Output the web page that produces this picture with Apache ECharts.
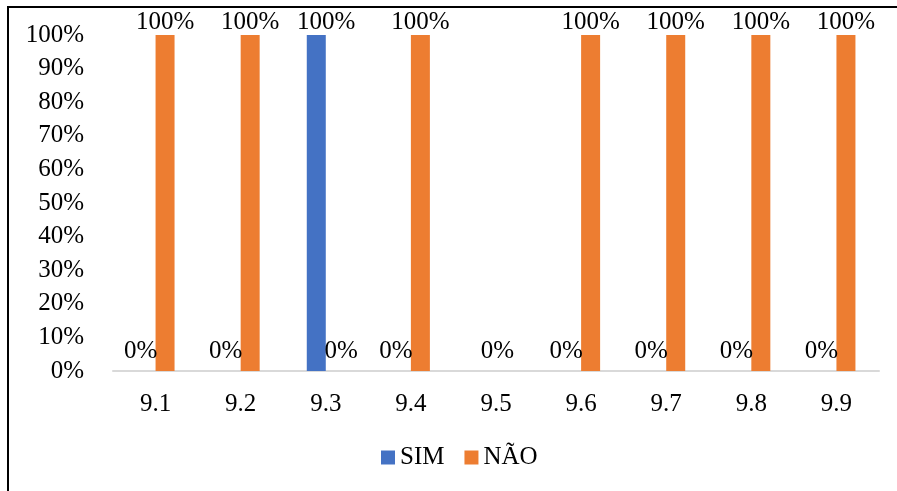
<!DOCTYPE html>
<html>
<head>
<meta charset="utf-8">
<script src="https://cdn.jsdelivr.net/npm/echarts@6/dist/echarts.min.js"></script>
<style>
  html, body { margin: 0; padding: 0; background: #fff; }
  #chart { width: 897px; height: 491px; }
</style>
</head>
<body>
<div id="chart"></div>
<script>
// Items of the questionnaire (section 9)
const categories = ['9.1', '9.2', '9.3', '9.4', '9.5', '9.6', '9.7', '9.8', '9.9'];
// Share of answers per item, in percent
const simValues = [0, 0, 100, 0, 0, 0, 0, 0, 0];
const naoValues = [100, 100, 0, 100, 0, 100, 100, 100, 100];
// Which zero labels are shown (item 9.5 carries a single centred label)
const simLabelShown = [true, true, true, true, false, true, true, true, true];
const naoZeroShift = [6, 6, 6, 6, -8, 6, 6, 6, 6];

const FONT = '"Liberation Serif", "Times New Roman", serif';
const BLUE = '#4472C4';
const ORANGE = '#ED7D31';

function labelFor(value, zeroShift, fullShift, shown) {
  if (!shown) return { show: false };
  if (value === 0) return { show: true, position: 'top', distance: 7, offset: [zeroShift, 0] };
  return { show: true, position: 'top', distance: 0, offset: [fullShift, 0] };
}

const simData = simValues.map((v, i) => ({ value: v, label: labelFor(v, -5.5, 10, simLabelShown[i]) }));
const naoData = naoValues.map((v, i) => ({ value: v, label: labelFor(v, naoZeroShift[i], 0, true) }));

const baseLabel = {
  show: true,
  position: 'top',
  formatter: p => p.value + '%',
  fontFamily: FONT,
  fontSize: 25,
  color: '#000'
};

const chart = echarts.init(document.getElementById('chart'), null, { renderer: 'canvas' });
chart.setOption({
  animation: false,
  backgroundColor: '#fff',
  textStyle: { fontFamily: FONT },
  grid: { left: 113, right: 18, top: 35, bottom: 120 },
  legend: {
    left: 376,
    top: 440,
    itemWidth: 14,
    itemHeight: 14,
    itemGap: 20,
    icon: 'rect',
    textStyle: { fontFamily: FONT, fontSize: 25, color: '#000' },
    data: ['SIM', 'NÃO']
  },
  xAxis: {
    type: 'category',
    data: categories,
    axisLine: { lineStyle: { color: '#D9D9D9', width: 2 } },
    axisTick: { show: false },
    axisLabel: { fontFamily: FONT, fontSize: 25, color: '#000', margin: 21 }
  },
  yAxis: {
    type: 'value',
    min: 0,
    max: 100,
    interval: 10,
    splitLine: { show: false },
    axisLine: { show: false },
    axisTick: { show: false },
    axisLabel: { fontFamily: FONT, fontSize: 25, color: '#000', margin: 29, formatter: '{value}%' }
  },
  series: [
    {
      name: 'SIM',
      type: 'bar',
      barWidth: 19,
      barGap: '0%',
      itemStyle: { color: BLUE },
      label: baseLabel,
      data: simData
    },
    {
      name: 'NÃO',
      type: 'bar',
      barWidth: 19,
      barGap: '0%',
      itemStyle: { color: ORANGE },
      label: baseLabel,
      data: naoData
    }
  ],
  graphic: [
    {
      type: 'polyline',
      shape: { points: [[8, 491], [8, 7], [897, 7]] },
      style: { stroke: '#000', lineWidth: 2, fill: null }
    }
  ]
});
</script>
</body>
</html>
